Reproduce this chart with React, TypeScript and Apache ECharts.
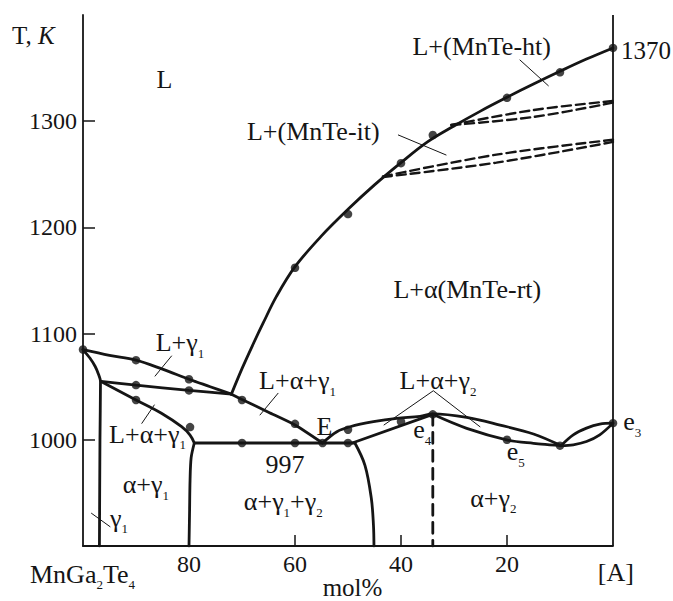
import React, { useEffect, useRef } from 'react';
import * as echarts from 'echarts';

// ---- axis ticks ----
const xTicks = [20, 40, 60, 80];
const yTicks = [1000, 1100, 1200, 1300];

// ---- phase boundaries (mol% [A], T/K) ----
const liquidusMnTe = [[72, 1043], [70, 1067], [68, 1089], [66, 1110], [63.5, 1135], [60, 1163], [55, 1192], [50, 1217], [45, 1240], [40, 1261], [35, 1280.5], [30, 1295.5], [25, 1309.5], [20, 1322.5], [15, 1335], [10, 1347], [5, 1358.5], [0, 1369]];
const liquidusGamma1 = [[100, 1085], [95, 1079.6], [90, 1075], [85, 1066.5], [80, 1057], [76, 1050], [72, 1043]];
const liquidusToE = [[72, 1043], [70, 1038], [65, 1026], [60, 1014], [54.8, 997]];
const tieUpper = [[96.6, 1055], [90, 1051.5], [80, 1046.5], [72, 1043]];
const tieLower = [[96.6, 1055], [90, 1037.5], [85.2, 1025], [81.4, 1012.3], [79.8, 1004.5], [79, 997]];
const solidusGamma1 = [[100, 1085], [98.7, 1077], [97.7, 1069], [97.1, 1062], [96.7, 1055], [96.8, 1000], [96.9, 900]];
const boundary80 = [[79, 997], [79.6, 983], [79.8, 962], [79.9, 930], [80, 900]];
const boundary45 = [[48.7, 997], [46.8, 976], [45.6, 945], [45.2, 920], [45.1, 900]];
const eutectic997 = [[79, 997], [48.7, 997]];
const riseToE4 = [[49.2, 997], [34, 1024]];
const domeLiquidus = [[54.8, 997], [52.1, 1007.6], [49.6, 1012.3], [45.2, 1017], [40.8, 1020.2], [36.4, 1022], [34, 1024.5], [27.6, 1021.2], [21.3, 1013.9], [15, 1005.5], [9.8, 994.5]];
const fallFromE4 = [[34, 1024], [27.6, 1010.8], [19.9, 999.8], [15, 996.7], [9.8, 994.5]];
const lensUpper = [[9.8, 994.5], [7.5, 1004.7], [5, 1011], [2.5, 1014.8], [0, 1015.7]];
const lensLower = [[9.8, 994.5], [7.5, 995.3], [5, 998.4], [2.5, 1004.7], [0, 1015.7]];
const compoundLine = [[34, 1024], [34, 900]];
const htUpper = [[30.5, 1296.4], [15, 1310.5], [0, 1319]];
const htLower = [[30.5, 1296.4], [15, 1304], [0, 1317.5]];
const itUpper = [[43.4, 1248], [22, 1268.5], [0, 1282.5]];
const itLower = [[43.4, 1247.5], [22, 1261], [0, 1280.5]];
const rightBorderAt = 0;

// ---- experimental points ----
const points = [[100, 1085], [90, 1075], [80, 1057], [90, 1051.5], [80, 1046.5], [90, 1037.5], [79.8, 1012], [70, 1037.5], [60, 1015], [70, 997], [60, 997], [54.8, 997], [50, 997], [50, 1009.5], [40, 1017], [34, 1024], [20, 1000], [10, 994.5], [0, 1015.7], [60, 1162], [50, 1212.5], [40, 1260.5], [34, 1287], [20, 1322], [10, 1346], [0, 1369]];

// ---- leader lines ----
const leaders = [
  [[17.55, 1357.6], [12.2, 1333.4]],
  [[40.5, 1287], [31.5, 1268.2]],
  [[83.3, 1078.9], [86.4, 1060]],
  [[63.2, 1043.8], [66.6, 1023.4]],
  [[86.55, 1032.8], [88.9, 1015.5]],
  [[43.2, 1014], [33.9, 1046.2], [25.1, 1012.3]],
  [[98.4, 930.8], [94.9, 918.2]],
];

const INK = '#151515';
const FONT = '"Liberation Serif", "Times New Roman", serif';

const rich = {
  m: { fontSize: 26, fontFamily: FONT, fill: INK, lineHeight: 34 },
  t: { fontSize: 25, fontFamily: FONT, fill: INK, lineHeight: 24 },
  i: { fontSize: 25, fontFamily: FONT, fill: INK, lineHeight: 34, fontStyle: 'italic' },
  s: { fontSize: 13, fontFamily: FONT, fill: INK, lineHeight: 13, verticalAlign: 'bottom' },
};

const annotations: [string, number, number, string][] = [
  ['{t|T, }{i|K}', 12, 35.5, 'left'],
  ['{m|L}', 164.5, 79.5, 'center'],
  ['{m|L+(MnTe-ht)}', 481.7, 46.7, 'center'],
  ['{t|1370}', 621, 50, 'left'],
  ['{m|L+(MnTe-it)}', 313.3, 131.7, 'center'],
  ['{m|L+α(MnTe-rt)}', 467.3, 289, 'center'],
  ['{m|L+γ}{s|1}', 180, 342.5, 'center'],
  ['{m|L+α+γ}{s|1}', 297.5, 380.5, 'center'],
  ['{m|L+α+γ}{s|1}', 147.5, 434, 'center'],
  ['{m|E}', 324.5, 426, 'center'],
  ['{m|997}', 285, 464, 'center'],
  ['{m|L+α+γ}{s|2}', 438, 380.5, 'center'],
  ['{m|e}{s|4}', 413.3, 429.8, 'left'],
  ['{m|e}{s|5}', 506.7, 451.5, 'left'],
  ['{m|e}{s|3}', 623.3, 421.5, 'left'],
  ['{m|α+γ}{s|1}', 145.8, 484.8, 'center'],
  ['{m|α+γ}{s|1}{m|+γ}{s|2}', 283.3, 501.5, 'center'],
  ['{m|α+γ}{s|2}', 493.3, 498.2, 'center'],
  ['{m|γ}{s|1}', 110, 518, 'left'],
  ['{m|MnGa}{s|2}{m|Te}{s|4}', 30, 574, 'left'],
  ['{m|[A]}', 615.8, 572.5, 'center'],
  ['{t|mol%}', 352.5, 587.5, 'center'],
];

function curve(data: number[][], opts: { width?: number; dash?: any; smooth?: number | boolean } = {}) {
  return {
    type: 'line',
    data,
    symbol: 'none',
    showSymbol: false,
    smooth: opts.smooth === undefined ? 0.35 : opts.smooth,
    silent: true,
    lineStyle: { color: INK, width: opts.width ?? 2.8, type: opts.dash ?? 'solid', cap: 'round' },
    z: 2,
  };
}

export default function App() {
  const ref = useRef<HTMLDivElement>(null);
  useEffect(() => {
    const chart = echarts.init(ref.current!, null, { renderer: 'svg' });
    const dash = [9, 5];
    const option: any = {
      animation: false,
      backgroundColor: '#ffffff',
      grid: { left: 83, right: 60, top: 15, bottom: 55, containLabel: false, outerBoundsMode: 'none' },
      xAxis: {
        type: 'value', min: 0, max: 100, inverse: true, position: 'bottom',
        axisLine: { show: true, onZero: false, lineStyle: { color: INK, width: 1.8 } },
        axisTick: { show: true, inside: true, length: 11, customValues: xTicks, lineStyle: { color: INK, width: 1.5 } },
        axisLabel: { customValues: xTicks, fontSize: 24, fontFamily: FONT, color: INK, margin: 6, formatter: (v: number) => String(v) },
        splitLine: { show: false },
      },
      yAxis: {
        type: 'value', min: 900, max: 1400, position: 'left',
        axisLine: { show: true, onZero: false, lineStyle: { color: INK, width: 1.8 } },
        axisTick: { show: true, inside: true, length: 12, customValues: yTicks, lineStyle: { color: INK, width: 1.5 } },
        axisLabel: { customValues: yTicks, fontSize: 24, fontFamily: FONT, color: INK, margin: 6, formatter: (v: number) => String(v) },
        splitLine: { show: false },
      },
      series: [
        {
          ...curve(liquidusMnTe),
          markLine: {
            silent: true, symbol: 'none', animation: false, label: { show: false },
            lineStyle: { color: INK, width: 1.8, type: 'solid' },
            data: [{ xAxis: rightBorderAt }],
          },
        },
        curve(liquidusGamma1),
        curve(liquidusToE, { smooth: 0.2 }),
        curve(tieUpper, { smooth: 0.2 }),
        curve(tieLower),
        curve(solidusGamma1, { smooth: 0.25 }),
        curve(boundary80, { smooth: 0.3 }),
        curve(boundary45),
        curve(eutectic997, { smooth: false }),
        curve(riseToE4, { smooth: false }),
        curve(domeLiquidus),
        curve(fallFromE4),
        curve(lensUpper),
        curve(lensLower),
        curve(compoundLine, { smooth: false, dash: [11, 7] }),
        curve(htUpper, { dash, width: 2.4 }),
        curve(htLower, { dash, width: 2.4 }),
        curve(itUpper, { dash, width: 2.4 }),
        curve(itLower, { dash, width: 2.4 }),
        ...leaders.map((d) => curve(d, { smooth: false, width: 1 })),
        {
          type: 'scatter', data: points, symbol: 'circle', symbolSize: 8.5, silent: true,
          itemStyle: { color: INK }, z: 3,
        },
      ],
      graphic: annotations.map(([text, x, y, align]) => ({
        type: 'text', x, y, silent: true,
        style: { text, rich, textAlign: align, textVerticalAlign: 'middle', fill: INK, fontSize: 25, fontFamily: FONT },
      })),
    };
    chart.setOption(option);
    return () => chart.dispose();
  }, []);
  return <div ref={ref} style={{ position: 'fixed', left: 0, top: 0, width: 673, height: 601, background: '#fff' }} />;
}
